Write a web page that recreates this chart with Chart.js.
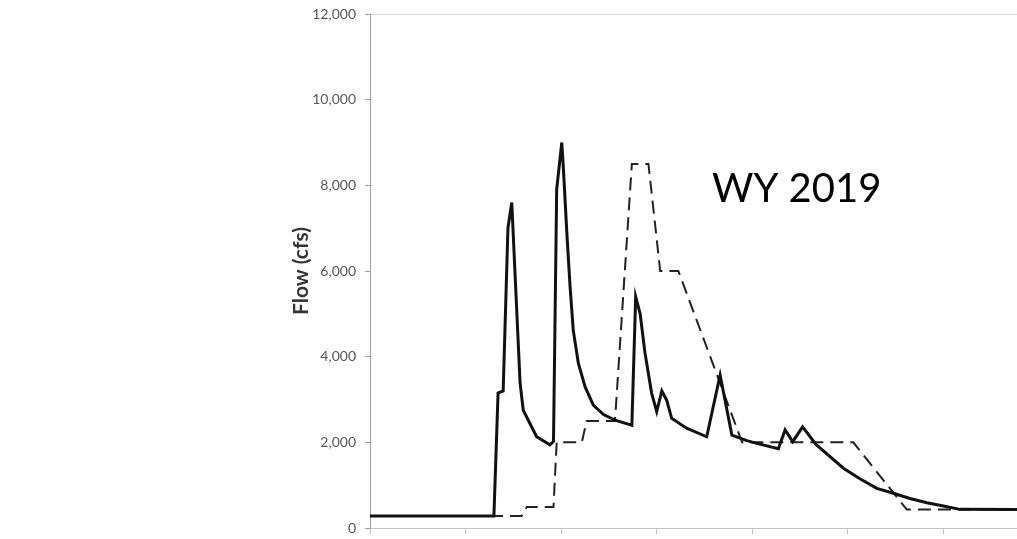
<!DOCTYPE html>
<html>
<head>
<meta charset="utf-8">
<title>WY 2019 flow</title>
<script src="https://cdn.jsdelivr.net/npm/chart.js@4.4.1/dist/chart.umd.min.js"></script>
<style>
  html, body { margin: 0; padding: 0; background: #fff; }
  #wrap { width: 1017px; height: 539px; position: relative; }
</style>
</head>
<body>
<div id="wrap"><canvas id="flow-chart"></canvas></div>
<script>
// daily flow (solid line), day of water year and cfs
const flowDays = [0, 38.9, 40.2, 41.8, 43.3, 44.5, 47.1, 48.1, 52.3, 56.5, 57.6, 58.6, 60.2, 60.7, 61.8, 62.8,
    63.8, 65.4, 67.5, 70.1, 73.3, 76.9, 82.2, 83.4, 84.8, 86.3, 88.4, 90.0, 91.6, 93.1, 94.7, 99.4, 105.7,
    109.9, 113.6, 118.3, 121.4, 128.2, 130.3, 132.7, 135.8, 140.0, 148.6, 153.8, 159.1, 164.3, 169.5, 174.8,
    180.0, 185.2, 203.1];
const flowCfs = [280, 280, 3150, 3200, 7000, 7600, 3400, 2750, 2130, 1940, 2020, 7900, 9000, 8400, 6880, 5640,
    4620, 3850, 3300, 2870, 2650, 2520, 2400, 5400, 5000, 4100, 3150, 2720, 3200, 2990, 2560, 2330, 2130,
    3570, 2170, 2040, 1975, 1850, 2290, 2015, 2360, 1950, 1395, 1150, 925, 810, 690, 590,
    515, 435, 430];

// scheduled release (dashed line)
const scheduleDays = [0, 47.6, 49.2, 57.6, 58.6, 66.5, 68.0, 76.9, 82.2, 87.4, 91.1, 96.8, 116.8, 151.7, 168.5, 203.1];
const scheduleCfs = [280, 280, 490, 490, 2000, 2000, 2500, 2500, 8500, 8500, 6000, 6000, 2000, 2000, 430, 430];

const yTicks = [0, 2000, 4000, 6000, 8000, 10000, 12000];
const yearLabel = 'WY 2019';

function toPoints(xs, ys) {
    return xs.map((x, i) => ({ x: x, y: ys[i] }));
}

// big year label inside the plot
const yearLabelPlugin = {
    id: 'yearLabel',
    afterDraw(chart) {
        const ctx = chart.ctx;
        ctx.save();
        ctx.font = '40px Lato';
        ctx.fillStyle = '#000';
        ctx.textAlign = 'left';
        ctx.textBaseline = 'alphabetic';
        ctx.fillText(yearLabel, 712, 202);
        ctx.restore();
    }
};

const ctx = document.getElementById('flow-chart').getContext('2d');
new Chart(ctx, {
    type: 'line',
    data: {
        datasets: [{
            label: 'Flow',
            data: toPoints(flowDays, flowCfs),
            borderColor: '#111',
            borderWidth: 3,
            pointRadius: 0,
            tension: 0
        }, {
            label: 'Schedule',
            data: toPoints(scheduleDays, scheduleCfs),
            borderColor: '#222',
            borderWidth: 2,
            borderDash: [13, 7],
            pointRadius: 0,
            tension: 0
        }]
    },
    options: {
        responsive: true,
        maintainAspectRatio: false,
        animation: false,
        layout: { padding: { left: 285, top: 14, right: 0, bottom: 5 } },
        plugins: {
            legend: { display: false },
            tooltip: { enabled: false }
        },
        scales: {
            x: {
                type: 'linear',
                min: 0,
                max: 203.1,
                border: { color: '#c4c4c4', width: 1 },
                grid: {
                    drawOnChartArea: false,
                    drawTicks: true,
                    tickLength: 6,
                    tickColor: '#c4c4c4'
                },
                ticks: { display: false, stepSize: 30, includeBounds: false }
            },
            y: {
                min: 0,
                max: 12000,
                afterFit: (scale) => {
                    scale.width = 85;
                    // labels may overhang the plot, don't let them shrink it
                    scale.paddingTop = 0;
                    scale.paddingBottom = 0;
                },
                afterBuildTicks: (scale) => { scale.ticks = yTicks.map(v => ({ value: v })); },
                border: { color: '#a0a0a0', width: 1 },
                grid: {
                    color: (c) => c.tick && c.tick.value === 12000 ? '#d9d9d9' : 'rgba(0,0,0,0)',
                    tickLength: 5,
                    tickColor: '#a0a0a0'
                },
                ticks: {
                    padding: 9,
                    color: '#595959',
                    font: { family: 'Lato', size: 14 },
                    callback: (v) => v.toLocaleString('en-US')
                },
                title: {
                    display: true,
                    text: 'Flow (cfs)',
                    color: '#333',
                    font: { family: 'Lato', size: 21, weight: 'bold' },
                    padding: { top: 4, bottom: 4 }
                }
            }
        }
    },
    plugins: [yearLabelPlugin]
});
</script>
</body>
</html>
